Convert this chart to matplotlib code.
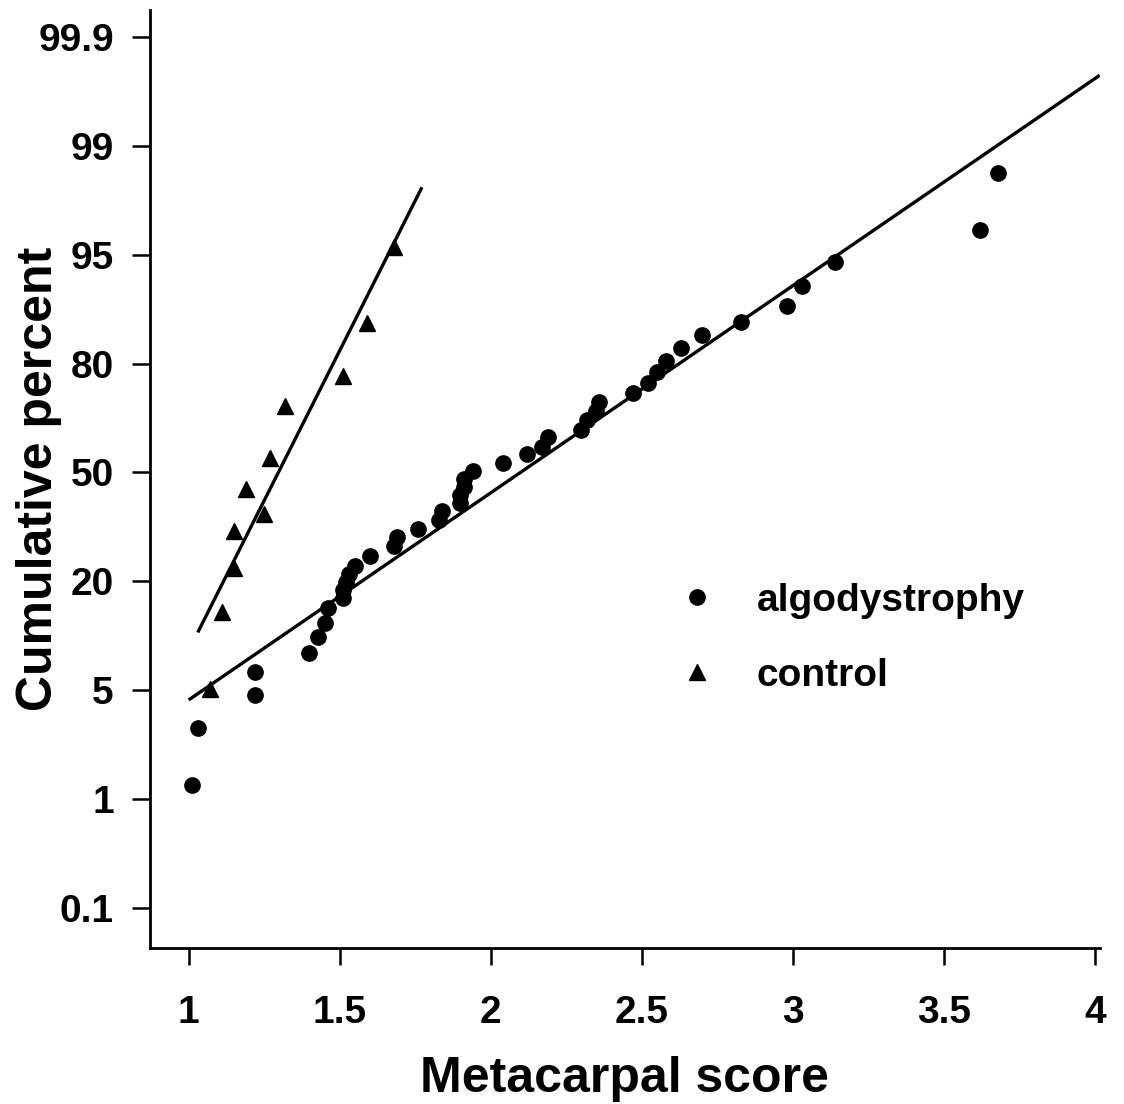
import numpy as np
import matplotlib
matplotlib.use('Agg')
import matplotlib.pyplot as plt

# Percentiles del eje y (escala de probabilidad)
pct_ticks = [0.1, 1, 5, 20, 50, 80, 95, 99, 99.9]
score_ticks = [1, 1.5, 2, 2.5, 3, 3.5, 4]

# Algodystrophy (circulos)
algo_score = [1.01, 1.03, 1.22, 1.22, 1.40, 1.43, 1.45, 1.46, 1.51, 1.51, 1.52,
              1.53, 1.55, 1.60, 1.68, 1.69, 1.76, 1.83, 1.84, 1.90, 1.90, 1.91,
              1.91, 1.94, 2.04, 2.12, 2.17, 2.19, 2.30, 2.32, 2.35, 2.36, 2.47,
              2.52, 2.55, 2.58, 2.63, 2.70, 2.83, 2.98, 3.03, 3.14, 3.62, 3.68]
algo_pct = [1.24, 2.88, 4.67, 6.41, 8.24, 10.1, 12.1, 14.6, 16.5, 18.1, 19.9,
            21.5, 23.3, 25.7, 28.2, 30.6, 32.8, 35.3, 38.0, 40.4, 42.9, 45.4,
            47.9, 50.5, 53.0, 55.9, 58.0, 61.1, 63.2, 66.1, 68.6, 71.0, 73.3,
            75.7, 78.2, 80.6, 83.3, 85.8, 87.9, 90.1, 92.4, 94.5, 96.5, 98.5]

# Control (triangulos)
ctrl_score = [1.07, 1.11, 1.15, 1.15, 1.25, 1.19, 1.27, 1.32, 1.51, 1.59, 1.68]
ctrl_pct = [5.1, 13.9, 22.9, 32.2, 37.1, 44.7, 54.6, 70.0, 77.3, 87.7, 95.5]

# Rectas ajustadas (extremos)
algo_fit_score = [1.005, 4.011]
algo_fit_pct = [4.41, 99.77]
ctrl_fit_score = [1.033, 1.770]
ctrl_fit_pct = [10.95, 98.1]


def logit(p):
    p = np.clip(np.asarray(p, dtype=float), 1e-9, 100 - 1e-9)
    return np.log(p / (100 - p))


# escala: percentiles marcados a intervalos iguales
L_nodes = logit(pct_ticks)
pos_nodes = np.arange(len(pct_ticks), dtype=float)
slope = 1 / (L_nodes[1] - L_nodes[0])
L_ext = np.concatenate([[-30], L_nodes, [30]])
pos_ext = np.concatenate([[pos_nodes[0] - (L_nodes[0] + 30) * slope], pos_nodes,
                          [pos_nodes[-1] + (30 - L_nodes[-1]) * slope]])


def forward(p):
    return np.interp(logit(p), L_ext, pos_ext)


def inverse(y):
    L = np.interp(y, pos_ext, L_ext)
    return 100 / (1 + np.exp(-L))


plt.rcParams['font.family'] = 'Liberation Sans'
plt.rcParams['font.weight'] = 'bold'

fig = plt.figure(figsize=(11.24, 11.04), dpi=100)
ax = fig.add_axes([0.1335, 0.1413, 0.845, 0.8497])

ax.set_yscale('function', functions=(forward, inverse))

ax.plot(algo_fit_score, algo_fit_pct, color='black', lw=2.4)
ax.plot(ctrl_fit_score, ctrl_fit_pct, color='black', lw=2.4)
ax.plot(algo_score, algo_pct, 'o', color='black', ms=11, label='algodystrophy')
ax.plot(ctrl_score, ctrl_pct, '^', color='black', ms=12, label='control')

ax.set_xlim(0.8726, 4.016)
ax.set_ylim(inverse(-0.367), inverse(8.248))

ax.set_yticks(pct_ticks)
ax.set_yticklabels([f'{v:g}' for v in pct_ticks])
ax.yaxis.set_minor_locator(matplotlib.ticker.NullLocator())
ax.set_xticks(score_ticks)
ax.set_xticklabels([f'{v:g}' for v in score_ticks])

for s in ['top', 'right']:
    ax.spines[s].set_visible(False)
for s in ['left', 'bottom']:
    ax.spines[s].set_linewidth(2)

ax.tick_params(axis='y', direction='out', length=13, width=1.8, pad=13, labelsize=28)
ax.tick_params(axis='x', direction='out', length=12, width=1.8, pad=22, labelsize=28)

ax.set_xlabel('Metacarpal score', fontsize=36, fontweight='bold', labelpad=18)
ax.set_ylabel('Cumulative percent', fontsize=36, fontweight='bold')
ax.yaxis.set_label_coords(-0.093, 0.5)

ax.legend(loc='upper left', bbox_to_anchor=(0.5554, 0.389), frameon=False,
          fontsize=28, handlelength=1.0, handletextpad=1.04, borderpad=0,
          labelspacing=1.0, borderaxespad=0)

fig.savefig('out.png', dpi=100)
